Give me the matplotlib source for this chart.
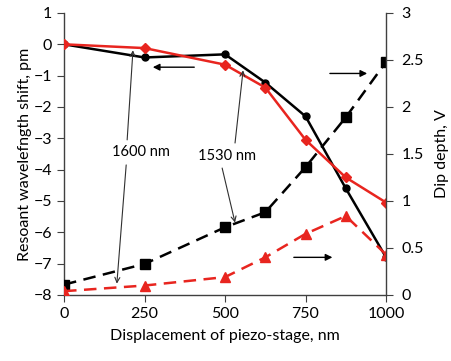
import numpy as np
import matplotlib
matplotlib.use("Agg")
import matplotlib.pyplot as plt

plt.rcParams['font.family'] = ['Lato', 'DejaVu Sans']
plt.rcParams['font.size'] = 11

# displacement of piezo-stage, nm
disp = [0, 250, 500, 625, 750, 875, 1000]

# resonant wavelength shift, pm (left axis)
shift_black = [0, -0.42, -0.32, -1.22, -2.3, -4.6, -6.8]
shift_red = [0, -0.12, -0.65, -1.38, -3.05, -4.25, -5.05]

# dip depth, V (right axis)
dip_black = [0.11, 0.33, 0.72, 0.88, 1.36, 1.89, 2.48]
dip_red = [0.04, 0.1, 0.19, 0.4, 0.65, 0.84, 0.43]

fig = plt.figure(figsize=(4.51, 3.61), dpi=100)
ax = fig.add_axes([0.142, 0.183, 0.714, 0.781])
ax2 = ax.twinx()

ax.plot(disp, shift_black, color='black', lw=1.8, marker='o', ms=5, zorder=3)
ax.plot(disp, shift_red, color='#e8251f', lw=1.8, marker='D', ms=5, zorder=3)
ax2.plot(disp, dip_black, color='black', lw=1.8, ls=(0, (5, 3)), marker='s', ms=7)
ax2.plot(disp, dip_red, color='#e8251f', lw=1.8, ls=(0, (5, 3)), marker='^', ms=7)

ax.set_xlim(0, 1000)
ax.set_ylim(-8, 1)
ax2.set_ylim(0, 3)
ax.set_xticks([0, 250, 500, 750, 1000])
ax.set_yticks(np.arange(-8, 2, 1))
ax2.set_yticks([0, 0.5, 1, 1.5, 2, 2.5, 3])
ax2.set_yticklabels(['0', '0.5', '1', '1.5', '2', '2.5', '3'])

for a in (ax, ax2):
    a.spines['top'].set_visible(False)
    for s in a.spines.values():
        s.set_color('#404040')
        s.set_linewidth(1.0)
    a.tick_params(direction='out', length=5, color='#404040', labelsize=11.5)
ax.spines['right'].set_visible(False)
ax2.spines['left'].set_visible(False)
ax2.spines['bottom'].set_visible(False)
ax2.tick_params(pad=6)

ax.set_xlabel('Displacement of piezo-stage, nm', fontsize=11.5, labelpad=6)
ax.set_ylabel('Resoant wavelefngth shift, pm', fontsize=11.5, labelpad=1)
ax2.set_ylabel('Dip depth, V', fontsize=11.5, labelpad=8)

# direction arrows
arr = dict(arrowstyle='-|>', color='black', lw=1.0, mutation_scale=10)
ax.annotate('', xy=(267, -0.73), xytext=(413, -0.73), arrowprops=arr)
ax.annotate('', xy=(950, -0.93), xytext=(817, -0.93), arrowprops=arr)
ax.annotate('', xy=(842, -6.8), xytext=(705, -6.8), arrowprops=arr)

# labels with pointer lines
ptr = dict(arrowstyle='->', color='#303030', lw=0.8, mutation_scale=9, shrinkA=0, shrinkB=0)
ax.text(239, -3.45, '1600 nm', ha='center', va='center', fontsize=10.5)
ax.annotate('', xy=(214, -0.19), xytext=(196, -3.05), arrowprops=ptr)
ax.annotate('', xy=(164, -7.64), xytext=(193, -3.85), arrowprops=ptr)
ax.text(506, -3.55, '1530 nm', ha='center', va='center', fontsize=10.5)
ax.annotate('', xy=(556, -0.83), xytext=(531, -3.15), arrowprops=ptr)
ax.annotate('', xy=(531, -5.69), xytext=(491, -3.95), arrowprops=ptr)

fig.savefig('out.png', dpi=100)
